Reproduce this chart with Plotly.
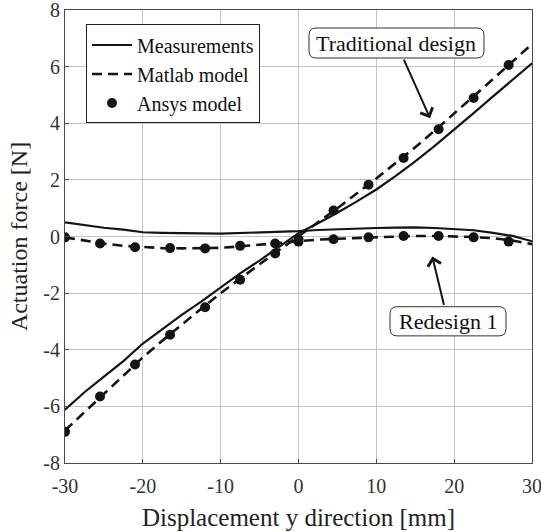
import plotly.graph_objects as go

# ---------------- data ----------------
# Measurements (solid)
meas_x = [-30, -27.5, -25, -22.5, -20, -17.5, -15, -12.5, -10, -7.5, -5, -2.5, 0,
          2.5, 5, 7.5, 10, 12.5, 15, 17.5, 20, 22.5, 25, 27.5, 30]
meas_trad = [-6.12, -5.5, -4.95, -4.4, -3.78, -3.27, -2.77, -2.3, -1.8, -1.3, -0.85, -0.38, 0.12,
             0.47, 0.84, 1.24, 1.66, 2.14, 2.65, 3.2, 3.77, 4.36, 4.95, 5.53, 6.12]
meas_red = [0.50, 0.40, 0.31, 0.24, 0.15, 0.13, 0.11, 0.11, 0.10, 0.12, 0.14, 0.16, 0.19,
            0.23, 0.26, 0.28, 0.30, 0.31, 0.32, 0.30, 0.27, 0.22, 0.13, 0.02, -0.17]

# Matlab model (dashed)
mat_x = [-30, -27.5, -25, -22.5, -20, -17.5, -15, -12.5, -10, -7.5, -5, -2.5, 0,
         2.5, 5, 7.5, 10, 12.5, 15, 17.5, 20, 22.5, 25, 27.5, 30]
mat_trad = [-6.85, -6.2, -5.55, -4.9, -4.27, -3.68, -3.1, -2.55, -2.0, -1.48, -0.98, -0.48, 0.0,
            0.5, 1.0, 1.52, 2.05, 2.6, 3.15, 3.74, 4.34, 4.94, 5.56, 6.18, 6.8]
mat_red = [-0.03, -0.15, -0.25, -0.33, -0.38, -0.41, -0.42, -0.42, -0.40, -0.35, -0.29, -0.22, -0.16,
           -0.11, -0.08, -0.05, -0.02, 0.0, 0.02, 0.02, 0.01, -0.02, -0.06, -0.14, -0.27]

# Ansys model (markers)
ans_x = [-30, -25.5, -21, -16.5, -12, -7.5, -3, 0, 4.5, 9, 13.5, 18, 22.5, 27]
ans_trad = [-6.9, -5.65, -4.52, -3.47, -2.5, -1.53, -0.6, -0.1, 0.92, 1.83, 2.77, 3.79, 4.89, 6.06]
ans_red = [-0.03, -0.25, -0.38, -0.41, -0.42, -0.33, -0.25, -0.18, -0.1, -0.03, 0.02, 0.02, -0.03, -0.18]

x_ticks = [-30, -20, -10, 0, 10, 20, 30]
x_ticktext = ["-30", "-20", "-10", "0", "10", "20", "30"]
y_ticks = [-8, -6, -4, -2, 0, 2, 4, 6, 8]
y_ticktext = ["-8", "-6", "-4", "-2", "0", "2", "4", "6", "8"]

FONT = "Liberation Serif"
INK = "#141414"


def rounded_box(x0, x1, y0, y1, rx, ry):
    return (f"M {x0 + rx},{y0} L {x1 - rx},{y0} Q {x1},{y0} {x1},{y0 + ry} "
            f"L {x1},{y1 - ry} Q {x1},{y1} {x1 - rx},{y1} "
            f"L {x0 + rx},{y1} Q {x0},{y1} {x0},{y1 - ry} "
            f"L {x0},{y0 + ry} Q {x0},{y0} {x0 + rx},{y0} Z")


fig = go.Figure()

# Measurements
fig.add_trace(go.Scatter(x=meas_x, y=meas_trad, mode="lines", name="Measurements",
                         line=dict(color=INK, width=2.2), legendgroup="m"))
fig.add_trace(go.Scatter(x=meas_x, y=meas_red, mode="lines", name="Measurements",
                         line=dict(color=INK, width=2.2), legendgroup="m", showlegend=False))
# Matlab model
fig.add_trace(go.Scatter(x=mat_x, y=mat_trad, mode="lines", name="Matlab model",
                         line=dict(color=INK, width=2.6, dash="10px,6px"), legendgroup="mm"))
fig.add_trace(go.Scatter(x=mat_x, y=mat_red, mode="lines", name="Matlab model",
                         line=dict(color=INK, width=2.6, dash="10px,6px"), legendgroup="mm",
                         showlegend=False))
# Ansys model
fig.add_trace(go.Scatter(x=ans_x, y=ans_trad, mode="markers", name="Ansys model",
                         marker=dict(color=INK, size=10), legendgroup="a"))
fig.add_trace(go.Scatter(x=ans_x, y=ans_red, mode="markers", name="Ansys model",
                         marker=dict(color=INK, size=10), legendgroup="a", showlegend=False))

axis_common = dict(
    showgrid=True, gridcolor="#c4c4c4", gridwidth=1,
    showline=True, linecolor="#4a4a4a", linewidth=1, mirror=True,
    ticks="inside", ticklen=4, tickcolor="#4a4a4a",
    zeroline=False, automargin=False, ticklabeloverflow="allow",
    tickfont=dict(family=FONT, size=20, color="#333333"),
)

fig.update_layout(
    width=541, height=532,
    margin=dict(l=65, r=9, t=10, b=69, autoexpand=False),
    paper_bgcolor="white", plot_bgcolor="white",
    font=dict(family=FONT, size=20, color="#222222"),
    xaxis=dict(range=[-30, 30], tickvals=x_ticks, ticktext=x_ticktext,
               ticklabelstandoff=5,
               title=dict(text="Displacement y direction [mm]", standoff=12,
                          font=dict(family=FONT, size=25, color="#222222")),
               **axis_common),
    yaxis=dict(range=[-8, 8], tickvals=y_ticks, ticktext=y_ticktext,
               title=dict(text="Actuation force [N]", standoff=8,
                          font=dict(family=FONT, size=24, color="#222222")),
               **axis_common),
    legend=dict(x=0.045, y=0.968, xanchor="left", yanchor="top",
                bordercolor="#222222", borderwidth=1, bgcolor="white",
                font=dict(family=FONT, size=20, color="#111111"),
                tracegroupgap=0, itemwidth=40),
    showlegend=True,
)

# rounded boxes behind the annotation labels
fig.add_shape(type="path", xref="x", yref="y", layer="above",
              path=rounded_box(1.35, 23.83, 6.305, 7.364, 0.9, 0.25),
              line=dict(color="#333333", width=1), fillcolor="white")
fig.add_shape(type="path", xref="x", yref="y", layer="above",
              path=rounded_box(11.76, 26.66, -3.51, -2.48, 0.9, 0.25),
              line=dict(color="#333333", width=1), fillcolor="white")

fig.add_annotation(x=16.9, y=4.18, ax=12.59, ay=6.83, xref="x", yref="y", axref="x", ayref="y",
                   text="Traditional design", showarrow=True, arrowhead=4, arrowsize=1.3,
                   arrowwidth=2, arrowcolor=INK,
                   font=dict(family=FONT, size=22, color="#111111"),
                   borderwidth=0, borderpad=4)
fig.add_annotation(x=17.2, y=-0.71, ax=19.2, ay=-3.0, xref="x", yref="y", axref="x", ayref="y",
                   text="Redesign 1", showarrow=True, arrowhead=4, arrowsize=1.3,
                   arrowwidth=2, arrowcolor=INK,
                   font=dict(family=FONT, size=22, color="#111111"),
                   borderwidth=0, borderpad=4)

fig.write_html("out.html", config={"displayModeBar": False})
with open("out.html", "r", encoding="utf-8") as f:
    html = f.read()
html = html.replace("<head>", "<head><style>html,body{margin:0;padding:0;overflow:hidden;}</style>", 1)
with open("out.html", "w", encoding="utf-8") as f:
    f.write(html)
